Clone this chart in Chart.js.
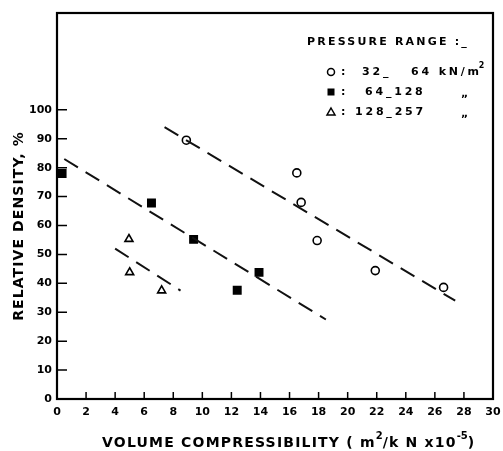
<!DOCTYPE html>
<html>
<head>
<meta charset="utf-8">
<script src="https://cdn.jsdelivr.net/npm/chart.js@4/dist/chart.umd.min.js"></script>
<style>
  html, body { margin: 0; padding: 0; background: #fff; }
  #chart { display: block; }
</style>
</head>
<body>
<canvas id="chart" width="503" height="451"></canvas>
<script>
// measured points, pressure range 32-64 kN/m2 (open circles)
const circleX = [8.9, 16.5, 16.8, 17.9, 21.9, 26.6];
const circleY = [89.5, 78.2, 68, 54.8, 44.4, 38.6];
// 64-128 (filled squares)
const squareX = [0.35, 6.5, 9.4, 12.4, 13.9];
const squareY = [78, 67.8, 55.2, 37.6, 43.8];
// 128-257 (open triangles)
const triangleX = [4.95, 5.0, 7.2];
const triangleY = [55.3, 43.8, 37.5];

// dashed trend lines (end points)
const circleLineX = [7.4, 27.4];
const circleLineY = [94, 34];
const squareLineX = [0.5, 18.5];
const squareLineY = [83, 27.5];
const triangleLineX = [4.0, 8.5];
const triangleLineY = [52, 37.5];

const xTicks = [0, 2, 4, 6, 8, 10, 12, 14, 16, 18, 20, 22, 24, 26, 28, 30];
const yTicks = [0, 10, 20, 30, 40, 50, 60, 70, 80, 90, 100];

const legendTitle = "PRESSURE RANGE :_";
const legendStyles = ["circle", "rect", "triangle"];
const legendRanges = ["32_   64 kN/m²", "64_128", "128_257"];

const FONT = "'DejaVu Sans', sans-serif";

function pts(xs, ys) {
  return xs.map((x, i) => ({ x: x, y: ys[i] }));
}

function markerDs(label, xs, ys, style, fill, r) {
  return {
    label: label,
    type: "scatter",
    data: pts(xs, ys),
    pointStyle: style,
    pointRadius: r,
    pointHoverRadius: r,
    pointBackgroundColor: fill,
    pointBorderColor: "#000",
    pointBorderWidth: 1.6,
    showLine: false
  };
}

function lineDs(xs, ys) {
  return {
    type: "line",
    data: pts(xs, ys),
    borderColor: "#111",
    borderWidth: 2,
    borderDash: [16, 9],
    pointRadius: 0,
    fill: false,
    tension: 0
  };
}

// frame, inward ticks, axis titles and the legend box
const decor = {
  id: "decor",
  afterDraw(chart) {
    const ctx = chart.ctx;
    const a = chart.chartArea;
    const xs = chart.scales.x, ys = chart.scales.y;
    ctx.save();
    ctx.strokeStyle = "#000";
    ctx.lineWidth = 2.2;
    ctx.strokeRect(a.left, a.top, a.right - a.left, a.bottom - a.top);

    ctx.lineWidth = 1.5;
    ctx.beginPath();
    xTicks.forEach(v => {
      if (v === 0 || v === 30) return;
      const px = xs.getPixelForValue(v);
      ctx.moveTo(px, a.bottom);
      ctx.lineTo(px, a.bottom - 7);
    });
    yTicks.forEach(v => {
      if (v === 0) return;
      const py = ys.getPixelForValue(v);
      ctx.moveTo(a.left, py);
      ctx.lineTo(a.left + 10, py);
    });
    ctx.stroke();

    ctx.fillStyle = "#000";
    // y title
    ctx.save();
    ctx.translate(19, 226);
    ctx.rotate(-Math.PI / 2);
    ctx.font = "bold 14px " + FONT;
    ctx.letterSpacing = "1.1px";
    ctx.textAlign = "center";
    ctx.textBaseline = "middle";
    ctx.fillText("RELATIVE DENSITY, %", 0, 0);
    ctx.restore();

    // x title with superscripts
    ctx.textBaseline = "alphabetic";
    ctx.textAlign = "left";
    const parts = [
      ["VOLUME COMPRESSIBILITY ( m", false],
      ["2", true],
      ["/k N x10", false],
      ["-5", true],
      [")", false]
    ];
    let x = 102;
    const base = 447;
    parts.forEach(p => {
      ctx.font = p[1] ? "bold 10px " + FONT : "bold 14px " + FONT;
      ctx.letterSpacing = p[1] ? "0px" : "1.2px";
      ctx.fillText(p[0], x, p[1] ? base - 8 : base);
      x += ctx.measureText(p[0]).width;
    });

    // legend
    ctx.font = "bold 11px " + FONT;
    ctx.letterSpacing = "2.2px";
    ctx.textBaseline = "middle";
    ctx.fillText(legendTitle, 307, 42);
    const rowY = [72, 92, 112];
    const textX = [362, 365, 355];
    legendStyles.forEach((s, i) => {
      const cy = rowY[i];
      const cx = 331;
      ctx.lineWidth = 1.5;
      ctx.beginPath();
      if (s === "circle") {
        ctx.arc(cx, cy, 3.5, 0, Math.PI * 2);
        ctx.stroke();
      } else if (s === "rect") {
        ctx.fillRect(cx - 3.5, cy - 3.5, 7, 7);
      } else {
        ctx.moveTo(cx, cy - 4);
        ctx.lineTo(cx + 4, cy + 3);
        ctx.lineTo(cx - 4, cy + 3);
        ctx.closePath();
        ctx.stroke();
      }
      ctx.font = "bold 11px " + FONT;
      ctx.letterSpacing = "2.8px";
      ctx.fillText(":", 341, cy);
      ctx.fillText(legendRanges[i].replace("²", ""), textX[i], cy);
      if (i === 0) {
        const w = ctx.measureText(legendRanges[i].replace("²", "")).width;
        ctx.font = "bold 8px " + FONT;
        ctx.letterSpacing = "0px";
        ctx.fillText("2", textX[i] + w - 3, cy - 6);
      } else {
        ctx.fillText("„", 461, cy + 2);
      }
    });
    ctx.restore();
  }
};

new Chart(document.getElementById("chart"), {
  data: {
    datasets: [
      lineDs(circleLineX, circleLineY),
      lineDs(squareLineX, squareLineY),
      lineDs(triangleLineX, triangleLineY),
      markerDs("32-64", circleX, circleY, "circle", "#fff", 4),
      markerDs("64-128", squareX, squareY, "rect", "#000", 5.2),
      markerDs("128-257", triangleX, triangleY, "triangle", "#fff", 4.6)
    ]
  },
  options: {
    responsive: false,
    animation: false,
    layout: { padding: { top: 13, right: 10, left: 0, bottom: 0 } },
    plugins: {
      legend: { display: false },
      tooltip: { enabled: false }
    },
    scales: {
      x: {
        type: "linear",
        min: 0,
        max: 30,
        afterFit: s => { s.height = 52; s.paddingRight = 0; s.paddingLeft = 0; },
        afterBuildTicks: s => { s.ticks = xTicks.map(v => ({ value: v })); },
        grid: { display: false, drawTicks: false },
        border: { display: false },
        ticks: {
          color: "#000",
          padding: 7,
          maxRotation: 0,
          autoSkip: false,
          font: { family: FONT, size: 11, weight: "bold" }
        }
      },
      y: {
        type: "linear",
        min: 0,
        max: 133.5,
        afterFit: s => { s.width = 57; },
        afterBuildTicks: s => { s.ticks = yTicks.map(v => ({ value: v })); },
        grid: { display: false, drawTicks: false },
        border: { display: false },
        ticks: {
          color: "#000",
          padding: 5,
          autoSkip: false,
          font: { family: FONT, size: 11, weight: "bold" }
        }
      }
    }
  },
  plugins: [decor]
});
</script>
</body>
</html>
